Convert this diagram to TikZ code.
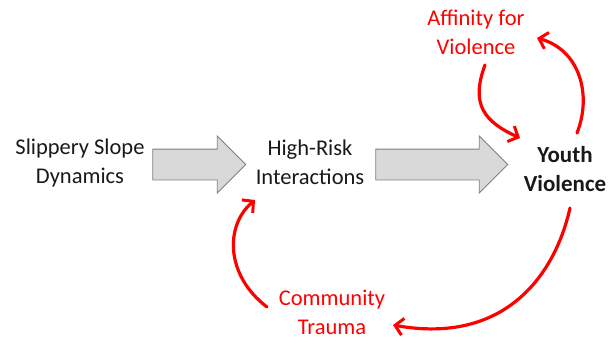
\documentclass[tikz,border=0pt]{standalone}
\usepackage{fontspec}
\setmainfont{Carlito}
\usetikzlibrary{shapes.arrows,arrows.meta}
\definecolor{redc}{HTML}{FF0000}
\definecolor{boxfill}{HTML}{D9D9D9}
\definecolor{boxline}{HTML}{7F7F7F}
\begin{document}
\begin{tikzpicture}[x=1pt,y=-1pt,
  txt/.style={align=center,inner sep=0pt,font=\fontsize{22.5}{29}\selectfont,text=black!90},
  redtxt/.style={txt,text=redc},
  blockarrow/.style={single arrow,draw=boxline,fill=boxfill,line width=0.8pt,
    single arrow head extend=13pt,single arrow head indent=0pt,
    inner xsep=0pt,inner ysep=15pt,shape border rotate=0},
  redarr/.style={draw=redc,line width=3.2pt,line cap=round,
    -{Straight Barb[length=8pt,width=17pt,line width=3pt]}}
]
\useasboundingbox (0,0) rectangle (612,341);
\node[txt] (slip) at (80,162.5) {Slippery Slope\\Dynamics};
\node[txt] (risk) at (310,162.5) {High-Risk\\Interactions};
\node[txt,font=\fontsize{23}{29}\selectfont\bfseries] (youth) at (565,169) {Youth\\Violence};
\node[redtxt] (aff) at (476,32) {Affinity for\\Violence};
\node[redtxt] (comm) at (332,312) {Community\\Trauma};
\node[blockarrow,minimum height=93pt] (ba1) at (191.5,164.5) {};
\node[blockarrow,minimum height=132pt] (ba2) at (434,164.5) {};
\draw[redarr] ([shift={(9,33)}]aff.center) .. controls (470,105) and (485,122) .. ([shift={(-45,-31)}]youth.center);
\draw[redarr] ([shift={(12,-36)}]youth.center) .. controls (592,95) and (580,50) .. ([shift={(61,6)}]aff.center);
\draw[redarr] ([shift={(5,39)}]youth.center) .. controls (555,275) and (505,345) .. ([shift={(61,13)}]comm.center);
\draw[redarr] ([shift={(-65,-5)}]comm.center) .. controls (225,275) and (225,225) .. ([shift={(-55,37.5)}]risk.center);
\end{tikzpicture}
\end{document}
